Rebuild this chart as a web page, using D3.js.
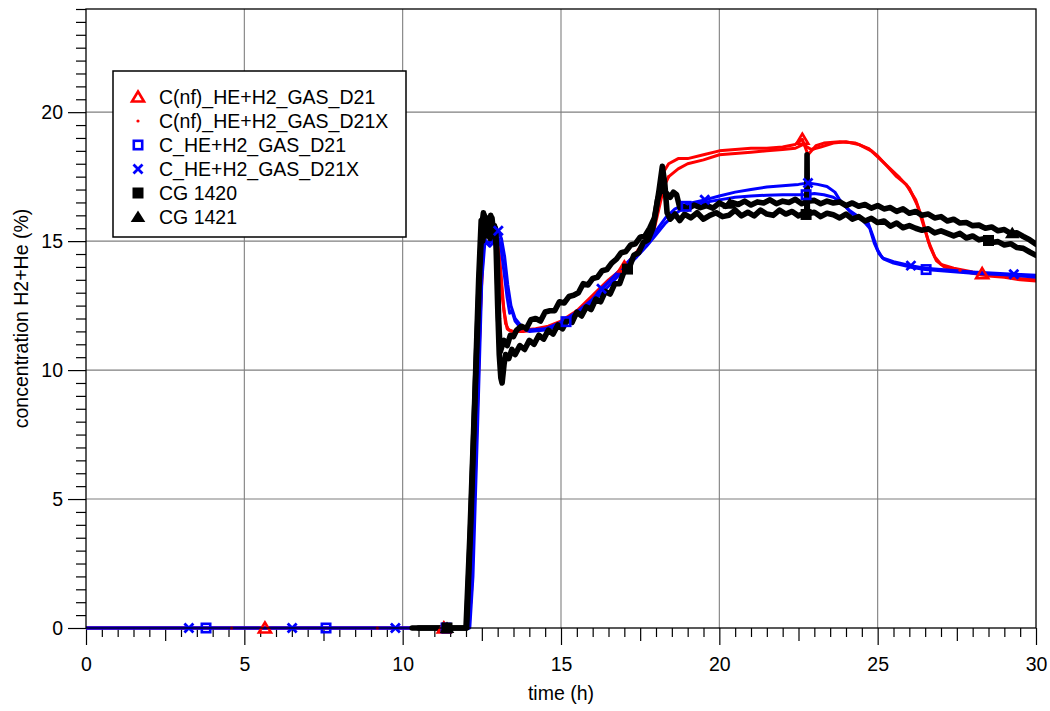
<!DOCTYPE html>
<html>
<head>
<meta charset="utf-8">
<script src="https://cdn.jsdelivr.net/npm/d3@7"></script>
<style>
  html, body { margin: 0; padding: 0; background: #fff; }
  svg { display: block; font-family: "Liberation Sans", Arial, Helvetica, sans-serif; }
</style>
</head>
<body>
<svg id="chart" width="1050" height="711"></svg>
<script>
// ---- data: [time (h), concentration H2+He (%)] ----
const redD21 = [
  [0,0],[5,0],[10,0],[12.05,0],[12.15,1],[12.3,6],[12.45,12],[12.55,15.2],[12.65,15.5],[12.75,15.1],
  [12.85,15.3],[12.95,15.2],[13.05,14.4],[13.15,12.8],[13.25,11.8],[13.35,11.55],[13.5,11.5],[13.8,11.55],
  [14.2,11.6],[14.6,11.7],[15.0,11.9],[15.5,12.3],[16.0,12.9],[16.5,13.5],[17.0,14.0],[17.4,14.6],
  [17.7,15.1],[17.9,15.6],[18.05,16.6],[18.2,17.6],[18.4,18.0],[18.7,18.2],[19.0,18.2],[19.5,18.35],
  [20.0,18.5],[20.5,18.55],[21.0,18.6],[21.5,18.6],[22.0,18.65],[22.4,18.75],[22.62,18.95],[22.8,18.35],
  [23.05,18.7],[23.3,18.8],[23.8,18.85],[24.3,18.8],[24.7,18.6],[25.0,18.3],[25.3,17.9],[25.6,17.5],
  [25.9,17.2],[26.2,16.6],[26.4,15.9],[26.6,15.0],[26.8,14.4],[27.0,14.1],[27.4,13.95],[28.0,13.8],
  [28.5,13.7],[29.0,13.65],[29.5,13.55],[30,13.5]
];
const redD21X = [
  [0,0],[5,0],[10,0],[12.08,0],[12.18,1.5],[12.32,7],[12.46,12.5],[12.56,15.0],[12.66,15.4],[12.78,15.0],
  [12.9,15.3],[13.0,15.0],[13.1,13.8],[13.2,12.3],[13.3,11.6],[13.45,11.5],[13.8,11.5],[14.2,11.55],
  [14.6,11.65],[15.0,11.85],[15.5,12.25],[16.0,12.8],[16.5,13.4],[17.0,13.95],[17.4,14.5],[17.7,15.0],
  [17.95,15.5],[18.1,16.3],[18.25,17.1],[18.4,17.5],[18.7,17.8],[19.0,18.0],[19.5,18.15],[20.0,18.35],
  [20.5,18.4],[21.0,18.45],[21.5,18.5],[22.0,18.55],[22.4,18.6],[22.65,18.75],[22.9,18.55],[23.2,18.65],
  [23.6,18.8],[24.0,18.85],[24.4,18.75],[24.8,18.5],[25.1,18.15],[25.4,17.8],[25.7,17.45],[26.0,17.05],
  [26.25,16.4],[26.45,15.6],[26.65,14.8],[26.85,14.25],[27.1,14.0],[27.5,13.9],[28.0,13.75],[28.5,13.65],
  [29.0,13.6],[29.5,13.5],[30,13.45]
];
const blueD21 = [
  [0,0],[5,0],[10,0],[12.1,0],[12.2,2.5],[12.35,8.5],[12.48,13.5],[12.58,15.1],[12.7,14.9],[12.85,15.1],
  [13.0,15.2],[13.1,14.8],[13.2,13.8],[13.3,12.8],[13.38,12.2],[13.45,12.3],[13.55,11.9],[13.75,11.6],
  [14.0,11.5],[14.5,11.55],[15.0,11.75],[15.5,12.15],[16.0,12.65],[16.5,13.25],[17.0,13.9],[17.4,14.4],
  [17.7,14.8],[18.0,15.25],[18.3,15.7],[18.6,16.05],[18.95,16.35],[19.5,16.5],[20.0,16.6],[20.5,16.7],
  [21.0,16.75],[21.5,16.78],[22.0,16.8],[22.5,16.8],[22.74,16.8],[23.0,16.85],[23.3,16.8],[23.6,16.7],
  [23.9,16.45],[24.2,16.05],[24.5,15.85],[24.75,15.5],[24.9,14.9],[25.05,14.5],[25.2,14.3],[25.5,14.15],
  [26.0,14.0],[26.5,13.9],[27,13.85],[28,13.75],[29,13.7],[30,13.6]
];
const blueD21X = [
  [0,0],[5,0],[10,0],[12.12,0],[12.22,2],[12.37,8],[12.5,13.5],[12.6,15.0],[12.75,14.8],[12.9,15.0],
  [13.02,15.4],[13.12,15.1],[13.22,14.4],[13.32,13.3],[13.42,12.5],[13.55,12.0],[13.75,11.7],[14.0,11.55],
  [14.5,11.6],[15.0,11.85],[15.5,12.25],[16.0,12.75],[16.28,13.15],[16.6,13.55],[17.0,14.05],[17.4,14.55],
  [17.7,14.95],[18.0,15.4],[18.3,15.9],[18.6,16.25],[19.0,16.45],[19.54,16.6],[20.0,16.75],[20.5,16.9],
  [21.0,17.0],[21.5,17.1],[22.0,17.15],[22.5,17.2],[22.8,17.25],[23.1,17.2],[23.4,17.12],[23.65,16.9],
  [23.8,16.6],[24.1,16.2],[24.4,15.95],[24.7,15.7],[24.85,15.2],[25.0,14.65],[25.15,14.35],[25.5,14.2],
  [26.05,14.05],[26.5,13.95],[27,13.9],[28,13.8],[29.3,13.72],[30,13.68]
];
const cg1420 = [
  [10.3,0],[11.4,0],[12.02,0],[12.15,4],[12.3,9.5],[12.42,13.5],[12.5,15.6],[12.55,16.1],[12.6,15.3],
  [12.66,15.9],[12.72,15.2],[12.78,16.0],[12.84,15.3],[12.9,15.6],[12.95,14.8],[13.0,12.5],[13.05,10.6],
  [13.1,9.7],[13.14,9.5],[13.2,10.2],[13.25,10.6],[13.35,10.45],[13.45,10.8],[13.55,10.6],[13.7,10.95],
  [13.85,10.8],[14.0,11.15],[14.15,11.0],[14.3,11.35],[14.45,11.2],[14.6,11.55],[14.75,11.4],[14.9,11.75],
  [15.05,11.6],[15.2,11.95],[15.35,11.85],[15.5,12.25],[15.65,12.1],[15.8,12.45],[15.95,12.35],[16.1,12.75],
  [16.25,12.65],[16.4,13.05],[16.55,12.95],[16.7,13.35],[16.85,13.35],[17.0,13.85],[17.15,13.95],[17.3,14.45],
  [17.45,14.55],[17.6,14.95],[17.75,15.05],[17.9,15.5],[18.0,16.2],[18.1,17.0],[18.2,17.9],[18.28,17.2],
  [18.35,16.1],[18.45,15.85],[18.6,16.05],[18.75,15.8],[18.9,16.05],[19.1,15.9],[19.3,16.1],[19.5,15.85],
  [19.7,16.0],[19.9,16.1],[20.1,15.95],[20.3,16.0],[20.5,16.2],[20.7,15.98],[20.9,16.12],[21.1,15.98],
  [21.3,16.2],[21.5,16.05],[21.7,16.0],[21.9,16.2],[22.1,16.05],[22.3,16.15],[22.5,15.98],[22.7,16.1],
  [22.76,16.0],[22.77,18.35],[22.78,16.05],[23.0,16.12],[23.2,15.95],[23.4,16.08],[23.6,16.02],[23.8,15.9],
  [24.0,16.05],[24.2,15.85],[24.4,15.95],[24.6,15.78],[24.8,15.88],[25.0,15.72],[25.2,15.78],[25.4,15.58],
  [25.6,15.7],[25.8,15.52],[26.0,15.6],[26.2,15.5],[26.4,15.42],[26.6,15.48],[26.8,15.32],[27.0,15.4],
  [27.2,15.3],[27.4,15.2],[27.6,15.3],[27.8,15.12],[28.0,15.2],[28.2,15.05],[28.4,15.1],[28.6,14.95],
  [28.8,14.98],[29.0,14.85],[29.2,14.9],[29.4,14.75],[29.6,14.72],[29.8,14.58],[30.0,14.45]
];
const cg1421 = [
  [10.5,0],[12.0,0],[12.12,3.5],[12.28,9],[12.4,13.5],[12.48,15.8],[12.53,15.0],[12.58,16.0],[12.64,15.2],
  [12.7,15.8],[12.76,15.1],[12.82,15.9],[12.88,15.2],[12.93,15.5],[12.98,14.5],[13.03,12.0],[13.08,10.7],
  [13.13,10.9],[13.2,11.15],[13.3,10.95],[13.4,11.35],[13.5,11.3],[13.6,11.55],[13.75,11.7],[13.9,11.6],
  [14.05,11.95],[14.2,12.0],[14.35,11.9],[14.5,12.25],[14.65,12.3],[14.8,12.3],[14.95,12.65],[15.1,12.6],
  [15.25,12.85],[15.4,12.9],[15.55,13.0],[15.7,13.35],[15.85,13.3],[16.0,13.55],[16.15,13.6],[16.3,13.85],
  [16.45,13.9],[16.6,14.15],[16.75,14.3],[16.9,14.55],[17.05,14.6],[17.2,14.85],[17.35,14.9],[17.5,15.15],
  [17.65,15.2],[17.8,15.5],[17.95,15.9],[18.05,16.6],[18.15,17.0],[18.3,16.9],[18.45,16.7],[18.55,16.9],
  [18.65,16.8],[18.75,16.3],[18.85,16.35],[19.0,16.25],[19.2,16.4],[19.4,16.3],[19.6,16.38],[19.8,16.28],
  [20.0,16.48],[20.2,16.35],[20.4,16.5],[20.6,16.42],[20.8,16.55],[21.0,16.4],[21.2,16.52],[21.4,16.48],
  [21.6,16.6],[21.8,16.45],[22.0,16.55],[22.2,16.5],[22.4,16.62],[22.6,16.45],[22.8,16.55],[23.0,16.58],
  [23.2,16.45],[23.4,16.55],[23.6,16.48],[23.8,16.52],[24.0,16.38],[24.2,16.48],[24.4,16.35],[24.6,16.42],
  [24.8,16.28],[25.0,16.38],[25.2,16.25],[25.4,16.3],[25.6,16.15],[25.8,16.25],[26.0,16.08],[26.2,16.15],
  [26.4,16.0],[26.6,16.05],[26.8,15.9],[27.0,15.95],[27.2,15.78],[27.4,15.85],[27.6,15.7],[27.8,15.72],
  [28.0,15.6],[28.2,15.62],[28.4,15.5],[28.6,15.55],[28.8,15.4],[29.0,15.45],[29.2,15.3],[29.4,15.32],
  [29.6,15.18],[29.8,15.05],[30.0,14.88]
];

// time positions of the symbols placed along each curve
const markRedD21 = [5.65, 11.3, 17.0, 22.62, 28.3];
const markRedD21X = [4.6, 9.2, 13.8, 18.4, 23.0, 27.6];
const markBlueD21 = [3.79, 7.58, 11.37, 15.16, 18.95, 22.74, 26.53];
const markBlueD21X = [3.25, 6.51, 9.77, 13.02, 16.28, 19.54, 22.8, 26.05, 29.3];
const markCG1420 = [11.4, 17.1, 22.74, 28.5];
const markCG1421 = [11.4, 20.33, 29.25];

// axis ticks
const xMajorTicks = [0, 5, 10, 15, 20, 25, 30];
const yMajorTicks = [0, 5, 10, 15, 20];

const seriesNames = [
  "C(nf)_HE+H2_GAS_D21", "C(nf)_HE+H2_GAS_D21X", "C_HE+H2_GAS_D21",
  "C_HE+H2_GAS_D21X", "CG 1420", "CG 1421"
];

// ---- layout ----
const svg = d3.select("#chart");
const plotLeft = 86, plotRight = 1036, plotTop = 9, plotBottom = 628;
const x = d3.scaleLinear().domain([0, 30]).range([plotLeft, plotRight]);
const y = d3.scaleLinear().domain([0, 24]).range([plotBottom, plotTop]);
const FONT = 19.5;

// grid
const grid = svg.append("g").attr("stroke", "#7f7f7f").attr("stroke-width", 1.1);
xMajorTicks.filter(d => d > 0 && d < 30).forEach(d => {
  grid.append("line").attr("x1", x(d)).attr("x2", x(d)).attr("y1", plotTop).attr("y2", plotBottom);
});
yMajorTicks.filter(d => d > 0).forEach(d => {
  grid.append("line").attr("x1", plotLeft).attr("x2", plotRight).attr("y1", y(d)).attr("y2", y(d));
});

// axes
const xMinor = d3.range(0.5, 30, 0.5).filter(d => d % 2.5 !== 0);
const xMid = d3.range(2.5, 30, 5);
const yMinor = d3.range(0.5, 24.01, 0.5).filter(d => d % 5 !== 0);

function styleAxis(g) {
  g.select(".domain").remove();
  g.selectAll(".tick line").attr("stroke", "#000").attr("stroke-width", 1.2);
}

svg.append("g").attr("transform", `translate(0,${plotBottom})`)
  .call(d3.axisBottom(x).tickValues(xMinor).tickSize(9).tickFormat(""))
  .call(styleAxis);
svg.append("g").attr("transform", `translate(0,${plotBottom})`)
  .call(d3.axisBottom(x).tickValues(xMid).tickSize(13).tickFormat(""))
  .call(styleAxis);
const xAx = svg.append("g").attr("transform", `translate(0,${plotBottom})`)
  .call(d3.axisBottom(x).tickValues(xMajorTicks).tickSize(17).tickPadding(12).tickFormat(d3.format("d")))
  .call(styleAxis);
xAx.selectAll("text").attr("font-size", FONT).attr("font-family", "Liberation Sans, Arial, sans-serif").attr("fill", "#000");

svg.append("g").attr("transform", `translate(${plotLeft},0)`)
  .call(d3.axisLeft(y).tickValues(yMinor).tickSize(10).tickFormat(""))
  .call(styleAxis);
const yAx = svg.append("g").attr("transform", `translate(${plotLeft},0)`)
  .call(d3.axisLeft(y).tickValues(yMajorTicks).tickSize(18).tickPadding(5).tickFormat(d3.format("d")))
  .call(styleAxis);
yAx.selectAll("text").attr("font-size", FONT).attr("font-family", "Liberation Sans, Arial, sans-serif").attr("fill", "#000");

// axis titles
svg.append("text").attr("x", (plotLeft + plotRight) / 2).attr("y", 700)
  .attr("text-anchor", "middle").attr("font-size", FONT).text("time (h)");
svg.append("text").attr("transform", `translate(28,${(plotTop + plotBottom) / 2}) rotate(-90)`)
  .attr("text-anchor", "middle").attr("font-size", FONT).text("concentration H2+He (%)");

// curves
svg.append("defs").append("clipPath").attr("id", "plotClip")
  .append("rect").attr("x", plotLeft).attr("y", plotTop).attr("width", plotRight - plotLeft).attr("height", plotBottom - plotTop + 4);
const plot = svg.append("g").attr("clip-path", "url(#plotClip)");

const line = d3.line().x(d => x(d[0])).y(d => y(d[1]));
function valueAt(series, t) {
  const i = d3.bisector(d => d[0]).left(series, t);
  if (i <= 0) return series[0][1];
  if (i >= series.length) return series[series.length - 1][1];
  const a = series[i - 1], b = series[i];
  return a[1] + (b[1] - a[1]) * (t - a[0]) / (b[0] - a[0]);
}

// symbol painters (centred at 0,0)
const sym = {
  triOpen: (g, c) => g.append("path").attr("d", "M0,-5.5L6,4.5L-6,4.5Z").attr("fill", "none").attr("stroke", c).attr("stroke-width", 2.6),
  dot: (g, c) => g.append("circle").attr("r", 1.6).attr("fill", c),
  sqOpen: (g, c) => g.append("rect").attr("x", -4.2).attr("y", -4.2).attr("width", 8.4).attr("height", 8.4).attr("fill", "none").attr("stroke", c).attr("stroke-width", 2.6),
  cross: (g, c) => g.append("path").attr("d", "M-4.5,-4.5L4.5,4.5M-4.5,4.5L4.5,-4.5").attr("stroke", c).attr("stroke-width", 2.8).attr("fill", "none"),
  sqFill: (g, c) => g.append("rect").attr("x", -5.5).attr("y", -5.5).attr("width", 11).attr("height", 11).attr("fill", c),
  triFill: (g, c) => g.append("path").attr("d", "M0,-6.5L7.3,5L-7.3,5Z").attr("fill", c)
};

const seriesList = [
  { data: redD21,  marks: markRedD21,  color: "#ff0000", width: 3,   sym: "triOpen" },
  { data: redD21X, marks: markRedD21X, color: "#ff0000", width: 3,   sym: "dot" },
  { data: blueD21, marks: markBlueD21, color: "#0000ff", width: 3,   sym: "sqOpen" },
  { data: blueD21X, marks: markBlueD21X, color: "#0000ff", width: 3, sym: "cross" },
  { data: cg1420,  marks: markCG1420,  color: "#000000", width: 5.6, sym: "sqFill" },
  { data: cg1421,  marks: markCG1421,  color: "#000000", width: 5.6, sym: "triFill" }
];

seriesList.forEach(s => {
  plot.append("path").datum(s.data).attr("d", line)
    .attr("fill", "none").attr("stroke", s.color).attr("stroke-width", s.width)
    .attr("stroke-linejoin", "round").attr("stroke-linecap", "round");
  s.marks.forEach(t => {
    const g = svg.append("g").attr("transform", `translate(${x(t)},${y(valueAt(s.data, t))})`);
    sym[s.sym](g, s.color);
  });
});

// frame
svg.append("rect").attr("x", plotLeft).attr("y", plotTop).attr("width", plotRight - plotLeft).attr("height", plotBottom - plotTop)
  .attr("fill", "none").attr("stroke", "#000").attr("stroke-width", 1.3);

// legend
const legend = svg.append("g");
legend.append("rect").attr("x", 113).attr("y", 71).attr("width", 293).attr("height", 166)
  .attr("fill", "#fff").attr("stroke", "#000").attr("stroke-width", 1.5);
seriesList.forEach((s, i) => {
  const cy = 97 + i * 24;
  const g = legend.append("g").attr("transform", `translate(138,${cy})`);
  sym[s.sym](g, s.color);
  legend.append("text").attr("x", 159).attr("y", cy).attr("dy", "0.36em")
    .attr("font-size", FONT).attr("fill", "#000").text(seriesNames[i]);
});
</script>
</body>
</html>
